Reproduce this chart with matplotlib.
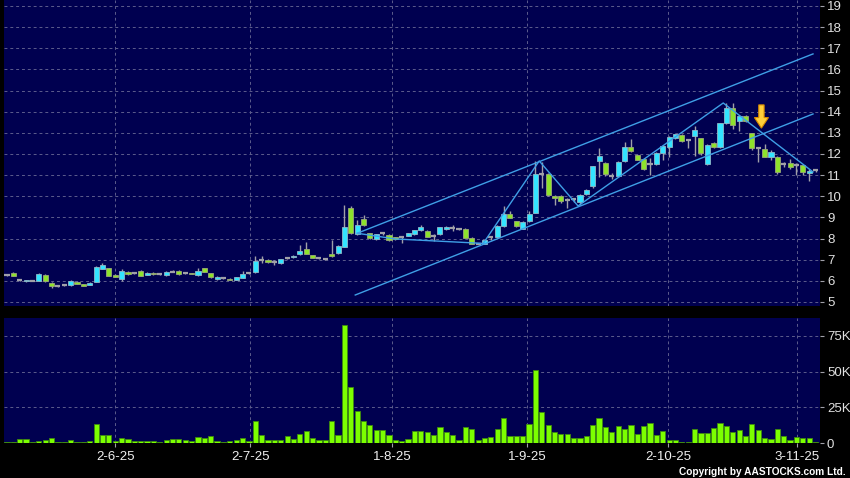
import numpy as np
import matplotlib
matplotlib.use("Agg")
import matplotlib.pyplot as plt

plt.rcParams['font.family'] = ['Liberation Sans', 'DejaVu Sans']

# daily OHLC (index 0 = first trading day shown)
opens = [6.28, 6.39, 6.03, 5.99, 6.00, 6.00, 6.28, 5.92, 5.76, 5.80,
         5.78, 5.96, 5.84, 5.80, 5.96, 6.56, 6.60, 6.28, 6.07, 6.40,
         6.36, 6.48, 6.28, 6.38, 6.30, 6.26, 6.43, 6.45, 6.37, 6.37,
         6.26, 6.59, 6.36, 6.08, 6.13, 6.10, 6.05, 6.13, 6.37, 6.40,
         6.97, 7.00, 6.90, 6.83, 7.10, 7.12, 7.26, 7.49, 7.20, 7.10,
         7.03, 7.25, 7.30, 7.62, 9.43, 8.20, 8.93, 8.25, 7.98, 8.25,
         8.17, 8.05, 8.05, 8.14, 8.20, 8.40, 8.36, 8.14, 8.20, 8.43,
         8.50, 8.45, 8.45, 8.04, 7.76, 7.76, 8.05, 8.09, 8.60, 9.16,
         8.82, 8.47, 8.82, 9.21, 11.03, 11.03, 10.03, 10.00, 9.84, 9.85,
         9.73, 10.10, 10.47, 11.66, 11.57, 10.95, 10.95, 11.66, 12.32, 11.97,
         11.78, 11.54, 11.54, 12.05, 12.35, 12.74, 12.90, 12.66, 12.87, 12.74,
         11.51, 12.51, 12.35, 13.45, 14.19, 13.56, 13.81, 12.98, 12.30, 12.22,
         11.87, 11.87, 11.53, 11.59, 11.48, 11.48, 11.09, 11.24]
highs = [6.33, 6.42, 6.10, 6.05, 6.03, 6.35, 6.34, 5.93, 5.79, 5.86,
         6.02, 5.99, 5.86, 5.96, 6.68, 6.83, 6.62, 6.30, 6.55, 6.45,
         6.40, 6.50, 6.40, 6.40, 6.33, 6.45, 6.50, 6.50, 6.40, 6.38,
         6.60, 6.62, 6.38, 6.22, 6.16, 6.12, 6.18, 6.45, 6.40, 7.18,
         7.18, 7.03, 7.00, 7.05, 7.15, 7.22, 7.70, 7.83, 7.22, 7.13,
         7.06, 7.93, 7.70, 9.59, 9.55, 8.88, 9.10, 8.28, 8.22, 8.32,
         8.20, 8.08, 8.08, 8.28, 8.42, 8.65, 8.40, 8.20, 8.55, 8.60,
         8.62, 8.50, 8.48, 8.06, 7.80, 7.95, 8.10, 8.65, 9.54, 9.30,
         8.85, 8.85, 9.30, 11.65, 11.60, 11.10, 10.05, 10.05, 9.90, 9.90,
         10.10, 10.35, 11.45, 12.28, 11.60, 11.10, 11.65, 12.57, 12.73, 12.00,
         11.80, 11.80, 12.10, 12.40, 12.85, 12.95, 12.95, 12.70, 13.30, 12.76,
         12.45, 12.55, 13.45, 14.40, 14.40, 13.85, 13.83, 13.00, 12.35, 12.45,
         12.20, 11.90, 11.62, 11.75, 11.55, 11.50, 11.30, 11.30]
lows = [6.25, 6.22, 5.98, 5.93, 5.97, 5.98, 5.95, 5.66, 5.72, 5.76,
        5.76, 5.83, 5.76, 5.78, 5.94, 6.55, 6.22, 6.17, 5.97, 6.28,
        6.30, 6.22, 6.26, 6.28, 6.28, 6.25, 6.40, 6.29, 6.33, 6.30,
        6.25, 6.42, 6.12, 6.05, 6.10, 6.03, 6.03, 6.12, 6.33, 6.38,
        6.85, 6.86, 6.75, 6.80, 7.05, 7.10, 7.24, 7.25, 7.08, 7.05,
        7.00, 7.15, 7.25, 7.60, 8.20, 8.15, 8.60, 8.00, 7.95, 8.15,
        7.90, 7.95, 7.80, 8.10, 8.18, 8.38, 8.08, 7.90, 8.18, 8.40,
        8.35, 8.40, 8.02, 7.72, 7.72, 7.74, 7.95, 8.05, 8.55, 8.95,
        8.55, 8.45, 8.80, 9.20, 10.40, 10.00, 9.60, 9.70, 9.45, 9.75,
        9.60, 10.05, 10.40, 10.90, 10.95, 10.80, 10.90, 11.60, 12.10, 11.70,
        11.25, 11.00, 11.50, 11.70, 11.87, 12.70, 12.55, 12.30, 11.90, 11.95,
        11.50, 12.30, 12.30, 13.40, 13.20, 13.10, 13.50, 12.20, 11.60, 11.85,
        11.70, 11.05, 11.40, 11.30, 11.00, 11.00, 10.70, 11.15]
closes = [6.28, 6.23, 6.03, 6.04, 6.00, 6.32, 5.97, 5.77, 5.76, 5.80,
          6.00, 5.84, 5.77, 5.92, 6.64, 6.75, 6.23, 6.18, 6.48, 6.30,
          6.36, 6.23, 6.39, 6.30, 6.30, 6.44, 6.43, 6.30, 6.37, 6.31,
          6.45, 6.43, 6.17, 6.20, 6.13, 6.05, 6.17, 6.33, 6.37, 6.95,
          6.97, 6.87, 6.90, 7.02, 7.10, 7.18, 7.41, 7.27, 7.10, 7.10,
          7.03, 7.16, 7.65, 8.53, 8.25, 8.64, 8.64, 8.04, 8.20, 8.25,
          7.93, 7.97, 8.05, 8.25, 8.40, 8.53, 8.09, 8.14, 8.53, 8.53,
          8.50, 8.45, 8.04, 7.73, 7.76, 7.92, 8.05, 8.60, 9.16, 8.97,
          8.58, 8.78, 9.18, 11.03, 11.03, 10.05, 9.92, 9.76, 9.84, 9.85,
          10.08, 10.31, 11.42, 11.89, 11.05, 10.95, 11.61, 12.32, 12.13, 11.73,
          11.27, 11.54, 12.05, 12.36, 12.82, 12.93, 12.62, 12.66, 13.14, 12.03,
          12.40, 12.35, 13.45, 14.16, 13.37, 13.81, 13.56, 12.27, 12.30, 11.87,
          12.11, 11.13, 11.53, 11.40, 11.48, 11.13, 11.21, 11.24]
# volume in thousands of shares
volumes = [1.0, 1.0, 3.0, 2.8, 0.5, 1.2, 2.1, 3.7, 0.7, 0.7,
           2.1, 1.0, 0.7, 1.4, 13.3, 5.6, 5.6, 1.6, 3.5, 2.6,
           1.6, 1.6, 1.6, 1.6, 1.0, 1.9, 3.0, 2.6, 1.9, 1.6,
           4.4, 3.3, 4.7, 1.6, 0.7, 1.6, 2.3, 3.5, 1.4, 15.4,
           5.6, 2.1, 2.3, 2.3, 5.1, 2.6, 6.3, 8.6, 3.3, 2.1,
           2.3, 15.7, 5.8, 82.7, 39.3, 22.2, 15.4, 12.9, 9.3, 9.1,
           5.8, 2.1, 1.6, 3.0, 8.2, 8.2, 7.5, 5.6, 11.0, 7.7,
           5.8, 2.3, 11.2, 9.8, 2.3, 3.3, 4.2, 10.0, 17.5, 4.7,
           4.7, 4.9, 13.5, 51.0, 21.7, 12.4, 7.7, 6.5, 6.5, 3.3,
           3.3, 4.7, 12.6, 17.3, 11.2, 7.5, 11.9, 9.8, 12.9, 6.5,
           11.7, 14.0, 5.8, 8.4, 2.1, 2.1, 0.7, 0.7, 9.8, 7.0,
           7.0, 10.7, 14.0, 11.7, 7.9, 9.1, 5.1, 13.5, 8.9, 3.5,
           2.6, 10.0, 5.1, 1.9, 4.0, 3.5, 3.5, 0.7]

date_labels = ["2-6-25", "2-7-25", "1-8-25", "1-9-25", "2-10-25", "3-11-25"]
date_pos = [17.0, 38.2, 60.5, 81.7, 103.8, 124.1]

# hand-drawn channel and zigzag (bar index, price)
upper_line = [(55.1, 8.26), (126.6, 16.73)]
lower_line = [(54.7, 5.33), (126.6, 13.89)]
zigzag = [(55.0, 8.25), (61.0, 7.98), (74.8, 7.77), (83.6, 11.67),
          (89.7, 9.54), (112.5, 14.41), (126.6, 11.15)]
arrow_x, arrow_top, arrow_tip = 118.5, 14.32, 13.22

NAVY = "#000050"
GRID = "#5c5c8c"
CYAN = "#33e4ff"
LIME = "#8ee22c"
GREY = "#a0a0a8"
LINE = "#3f9fe6"

o = np.array(opens); h = np.array(highs); l = np.array(lows); c = np.array(closes)
x = np.arange(len(o))
vol = np.array(volumes) * 1000

fig = plt.figure(figsize=(8.5, 4.78), dpi=100, facecolor="black")
ax = fig.add_axes([4/850, 1 - 306/478, 816/850, 306/478])
axv = fig.add_axes([4/850, 1 - 443/478, 816/850, 125/478])

for a in (ax, axv):
    a.set_facecolor(NAVY)
    for s in a.spines.values():
        s.set_visible(False)
    a.set_xlim(-0.47, 127.7)
    a.set_xticks(date_pos)
    a.grid(True, color=GRID, linestyle=(0, (3, 3)), linewidth=0.7)
    a.set_axisbelow(True)
    a.yaxis.tick_right()
    a.tick_params(axis="y", colors=GREY, labelcolor="#e0e0e0", length=3,
                  width=0.8, pad=2, labelsize=9.5)

# candles
w = 0.8
up = c > o
down = c < o
flat = c == o
ax.vlines(x, l, h, color=GREY, linewidth=1, zorder=2)
ax.bar(x[up], (c - o)[up], bottom=o[up], width=w, color=CYAN,
       edgecolor="#8fb8c8", linewidth=0.6, zorder=3)
ax.bar(x[down], (o - c)[down], bottom=c[down], width=w, color=LIME,
       edgecolor="#9aa878", linewidth=0.6, zorder=3)
ax.hlines(o[flat], x[flat] - w / 2, x[flat] + w / 2, color=GREY,
          linewidth=1.6, zorder=3)

# trend lines
for pts in (upper_line, lower_line, zigzag):
    px, py = zip(*pts)
    ax.plot(px, py, color=LINE, linewidth=1.0, zorder=4)

# yellow arrow
aw, sw, hl = 1.1, 0.42, 0.5
ax.fill([arrow_x - sw, arrow_x + sw, arrow_x + sw, arrow_x + aw, arrow_x,
         arrow_x - aw, arrow_x - sw],
        [arrow_top, arrow_top, arrow_tip + hl, arrow_tip + hl, arrow_tip,
         arrow_tip + hl, arrow_tip + hl],
        facecolor="#ffcf3a", edgecolor="#d88a00", linewidth=0.8, zorder=5)

ax.set_ylim(4.81, 19.28)
ax.set_yticks(range(5, 20))
ax.tick_params(axis="x", length=0, labelbottom=False)

# volume
axv.bar(x, vol, width=0.82, color="#7cff00", edgecolor="#3e8a10",
        linewidth=0.6, zorder=3)
axv.set_ylim(0, 87600)
axv.set_yticks([0, 25000, 50000, 75000])
axv.set_yticklabels(["0", "25K", "50K", "75K"])
axv.set_xticklabels(date_labels)
axv.tick_params(axis="x", colors=GREY, labelcolor="#f0f0f0", length=3,
                width=0.8, pad=3, labelsize=9.5)

fig.text(846/850, 1 - 472/478, "Copyright by AASTOCKS.com Ltd.", color="white",
         fontsize=7.3, fontweight="bold", ha="right", va="center")

fig.savefig("out.png", dpi=100, facecolor="black")
